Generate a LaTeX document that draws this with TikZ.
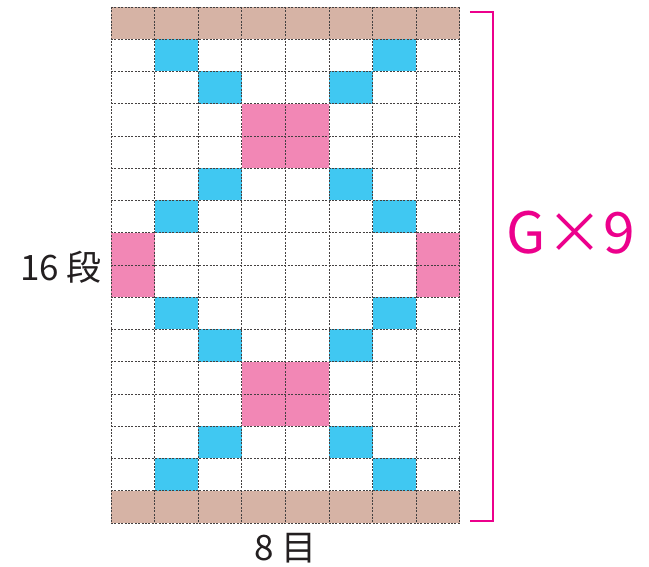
\documentclass[tikz,border=0pt]{standalone}
\usepackage{fontspec}
\setmainfont{Noto Sans CJK JP}
\usetikzlibrary{positioning}
\definecolor{edgebrown}{RGB}{214,179,165}
\definecolor{skyblue}{RGB}{64,200,242}
\definecolor{rosepink}{RGB}{242,135,181}
\definecolor{magentared}{RGB}{236,0,140}
\definecolor{inkgray}{RGB}{35,31,32}

\begin{document}
\begin{tikzpicture}[x=1pt,y=-1pt,every node/.style={outer sep=0pt},
 cell/.style={minimum width=43.6pt,minimum height=32.25pt,inner sep=0pt},
 gridline/.style={draw=inkgray!85,line width=0.7pt,dash pattern=on 2pt off 1.4pt},
 bracket/.style={draw=magentared,line width=1.8pt},
 label/.style={text=inkgray,font=\fontsize{35}{40}\selectfont,inner sep=0pt},
 reptext/.style={text=magentared,font=\fontsize{57}{62}\selectfont,inner sep=0pt}]

  \useasboundingbox (0,0) rectangle (649,566);

  % cells of the chart
  \foreach \r in {0,...,15}
   \foreach \c in {0,...,7}
    \node[cell] (c\r-\c) at ({\c*43.6+132.8},{\r*32.25+23.1}) {};

  \foreach \r in {0,15}
   \foreach \c in {0,...,7}
    \fill[edgebrown] (c\r-\c.north west) rectangle (c\r-\c.south east);
  \foreach \r/\c in {1/1,1/6,2/2,2/5,5/2,5/5,6/1,6/6,9/1,9/6,10/2,10/5,13/2,13/5,14/1,14/6}
   \fill[skyblue] (c\r-\c.north west) rectangle (c\r-\c.south east);
  \foreach \r/\c in {3/3,3/4,4/3,4/4,7/0,7/7,8/0,8/7,11/3,11/4,12/3,12/4}
   \fill[rosepink] (c\r-\c.north west) rectangle (c\r-\c.south east);

  % dashed grid
  \foreach \c in {0,...,7}
   \draw[gridline] (c0-\c.north west) -- (c15-\c.south west);
  \draw[gridline] (c0-7.north east) -- (c15-7.south east);
  \foreach \r in {0,...,15}
   \draw[gridline] (c\r-0.north west) -- (c\r-7.north east);
  \draw[gridline] (c15-0.south west) -- (c15-7.south east);

  % labels
  \node[label,left=9pt of c7-0.south west,yshift=-2pt] (rows) {16 段};
  \node[label,below=10pt of c15-3.south east] (cols) {8 目};

  % repeat bracket
  \coordinate (brtop) at ([xshift=10pt,yshift=-5pt]c0-7.north east);
  \coordinate (brbot) at ([xshift=10pt,yshift=2pt]c15-7.south east);
  \draw[bracket] (brtop) -- ++(23,0) coordinate (brtopr) |- (brbot);
  \node[reptext,anchor=west] (rep) at ([xshift=14pt,yshift=32pt]brtopr |- c7-7.south east) {G×9};

\end{tikzpicture}
\end{document}
